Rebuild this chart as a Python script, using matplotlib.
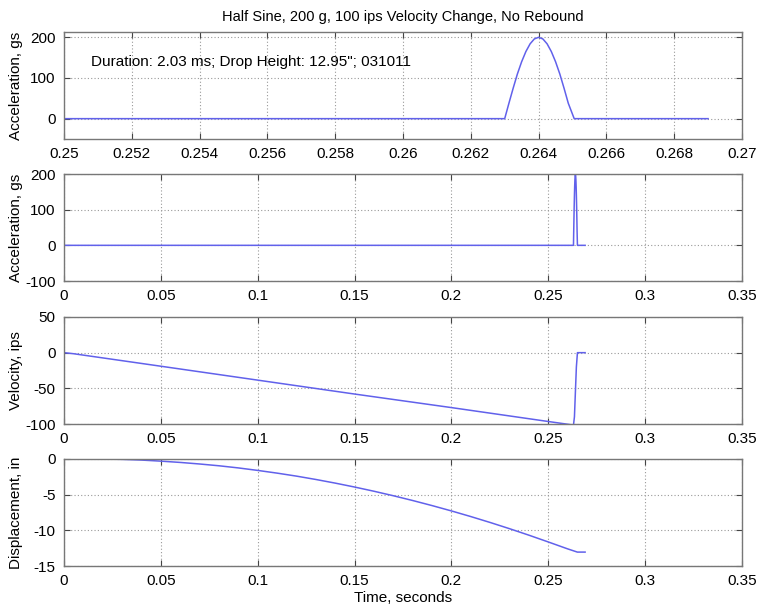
import matplotlib
matplotlib.use("Agg")
import matplotlib.pyplot as plt
from matplotlib.ticker import FuncFormatter

plt.rcParams['font.family'] = ['Liberation Sans', 'DejaVu Sans']
plt.rcParams['font.size'] = 11

# acceleration pulse (g)
acc_t = [0.0, 0.25, 0.263, 0.263125, 0.26325, 0.263375, 0.2635, 0.263625, 0.26375, 0.263875,
         0.264, 0.264125, 0.26425, 0.264375, 0.2645, 0.264625, 0.26475, 0.264875, 0.26505, 0.269]
acc_g = [0, 0, 0, 38, 75, 110, 140, 165, 184, 196,
         200, 196, 184, 165, 140, 110, 75, 38, 0, 0]

# velocity (ips)
vel_t = [0.0, 0.005, 0.05, 0.1, 0.15, 0.2, 0.25, 0.263, 0.2635, 0.264, 0.2645, 0.26505, 0.269]
vel_v = [0, -1.5, -19, -38.5, -58, -77, -96.5, -101.5, -90, -55, -20, 0, 0]

# displacement (in)
dis_t = [0.02, 0.03, 0.04, 0.05, 0.06, 0.07, 0.08, 0.09, 0.1, 0.11, 0.12, 0.13, 0.14,
         0.15, 0.16, 0.17, 0.18, 0.19, 0.2, 0.21, 0.22, 0.23, 0.24, 0.25, 0.26, 0.265, 0.269]
dis_x = [0, -0.05, -0.15, -0.3, -0.48, -0.7, -0.95, -1.25, -1.6, -1.98, -2.4, -2.87, -3.38,
         -3.93, -4.52, -5.15, -5.82, -6.53, -7.28, -8.07, -8.9, -9.77, -10.68, -11.63, -12.6, -13.05, -13.05]

title = "Half Sine, 200 g, 100 ips Velocity Change, No Rebound"
note = "Duration: 2.03 ms; Drop Height: 12.95\"; 031011"

line_c = (0.38, 0.38, 0.92)
fmt = FuncFormatter(lambda v, p: "%g" % round(v, 4))

fig = plt.figure(figsize=(7.57, 6.07), dpi=100)
W, H = 757.0, 607.0
left, right = 64, 742
tops = [32, 174, 317, 459]
h = 107

axes = []
for top in tops:
    ax = fig.add_axes([left / W, 1 - (top + h) / H, (right - left) / W, h / H])
    axes.append(ax)

for ax in axes:
    ax.grid(True, linestyle=(0, (1, 2)), color='#999999', linewidth=0.8)
    ax.tick_params(direction='in', length=4, color='#444444', top=True, right=True,
                   labelsize=11, pad=6)
    for s in ax.spines.values():
        s.set_color('#777777')
        s.set_linewidth(1.0)
    ax.xaxis.set_major_formatter(fmt)
    ax.yaxis.set_major_formatter(fmt)

ax1, ax2, ax3, ax4 = axes

ax1.plot(acc_t, acc_g, color=line_c, lw=1.1)
ax1.set_xlim(0.25, 0.27)
ax1.set_xticks([0.25 + 0.002 * i for i in range(11)])
ax1.set_ylim(-50, 213)
ax1.set_yticks([0, 100, 200])
ax1.set_ylabel("Acceleration, gs")
ax1.set_title(title, fontsize=10.5, pad=8)
ax1.text(0.2508, 140, note, fontsize=11, va='center')

ax2.plot(acc_t, acc_g, color=line_c, lw=1.1)
ax2.set_ylim(-100, 200)
ax2.set_yticks([-100, 0, 100, 200])
ax2.set_ylabel("Acceleration, gs")

ax3.plot(vel_t, vel_v, color=line_c, lw=1.1)
ax3.set_ylim(-100, 50)
ax3.set_yticks([-100, -50, 0, 50])
ax3.set_ylabel("Velocity, ips")

ax4.plot(dis_t, dis_x, color=line_c, lw=1.1)
ax4.set_ylim(-15, 0)
ax4.set_yticks([-15, -10, -5, 0])
ax4.set_ylabel("Displacement, in")
ax4.set_xlabel("Time, seconds", labelpad=2)

for ax in (ax2, ax3, ax4):
    ax.set_xlim(0, 0.35)
    ax.set_xticks([0.05 * i for i in range(8)])

for ax in axes:
    ax.yaxis.set_label_coords(-0.06, 0.5)

fig.savefig("out.png", dpi=100)
